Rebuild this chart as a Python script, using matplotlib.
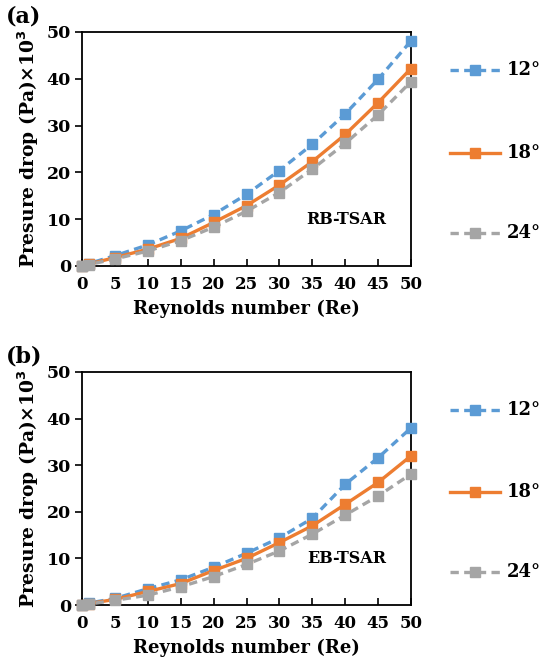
import matplotlib
matplotlib.use("Agg")
import matplotlib.pyplot as plt
from matplotlib.lines import Line2D

re_vals = [0, 1, 5, 10, 15, 20, 25, 30, 35, 40, 45, 50]
x_ticks = [0, 5, 10, 15, 20, 25, 30, 35, 40, 45, 50]
y_ticks = [0, 10, 20, 30, 40, 50]
angles = ["12°", "18°", "24°"]

rb_12 = [0, 0.5, 2.2, 4.5, 7.5, 11.0, 15.3, 20.4, 26.0, 32.5, 39.9, 48.1]
rb_18 = [0, 0.4, 1.8, 3.6, 5.9, 9.3, 12.9, 17.3, 22.3, 28.1, 34.9, 42.2]
rb_24 = [0, 0.3, 1.5, 3.2, 5.4, 8.3, 11.7, 15.7, 20.7, 26.2, 32.3, 39.4]

eb_12 = [0, 0.4, 1.4, 3.5, 5.4, 8.1, 11.1, 14.4, 18.6, 25.9, 31.6, 38.0]
eb_18 = [0, 0.3, 1.2, 2.9, 4.6, 7.4, 10.0, 13.4, 17.0, 21.6, 26.3, 32.0]
eb_24 = [0, 0.2, 1.0, 2.1, 3.9, 6.1, 8.7, 11.6, 15.2, 19.3, 23.4, 28.1]

colors = ["#5B9BD5", "#ED7D31", "#A5A5A5"]
styles = [(0, (2.5, 1.6)), "-", (0, (2.5, 1.6))]

plt.rcParams["font.family"] = ["DejaVu Serif"]
plt.rcParams["font.weight"] = "bold"

fig = plt.figure(figsize=(5.42, 6.67), dpi=100)
W, H = 542, 667

def add_panel(top_px, bottom_px, series, tag, panel_label, leg_ys):
    ax = fig.add_axes([82 / W, 1 - bottom_px / H, (411 - 82) / W, (bottom_px - top_px) / H])
    for vals, c, ls in zip(series, colors, styles):
        ax.plot(re_vals, vals, color=c, linestyle=ls, lw=2.4, marker="s",
                markersize=7.8, markeredgecolor=c, clip_on=False, zorder=3)
    ax.set_xlim(0, 50)
    ax.set_ylim(0, 50)
    ax.set_xticks(x_ticks)
    ax.set_yticks(y_ticks)
    ax.tick_params(axis="x", direction="in", length=5, width=1.2, labelsize=12, pad=7)
    ax.tick_params(axis="y", direction="out", length=5, width=1.2, labelsize=12.5, pad=3)
    for lab in ax.get_xticklabels() + ax.get_yticklabels():
        lab.set_fontweight("bold")
    for sp in ax.spines.values():
        sp.set_linewidth(1.3)
    ax.set_xlabel("Reynolds number (Re)", fontsize=13, fontweight="bold", labelpad=5)
    ax.set_ylabel("Presure drop (Pa)×10$^\\mathbf{3}$", fontsize=13.5, fontweight="bold", labelpad=4)
    ax.text(0.925, 0.2, tag, transform=ax.transAxes, ha="right", va="center",
            fontsize=11.5, fontweight="bold")
    fig.text(6 / W, 1 - (top_px - 15) / H, panel_label, fontsize=16, fontweight="bold",
             ha="left", va="center")
    for name, c, ls, ly in zip(angles, colors, styles, leg_ys):
        yf = 1 - ly / H
        fig.add_artist(Line2D([450 / W, 500 / W], [yf, yf], color=c, linestyle=ls, lw=2.4,
                              transform=fig.transFigure))
        fig.add_artist(Line2D([475 / W], [yf], color=c, marker="s", markersize=7.8,
                              linestyle="none", transform=fig.transFigure))
        fig.text(507 / W, yf, name, fontsize=13, fontweight="bold", ha="left", va="center")
    return ax

add_panel(32, 266, [rb_12, rb_18, rb_24], "RB-TSAR", "(a)", [70, 153, 233])
add_panel(372, 605, [eb_12, eb_18, eb_24], "EB-TSAR", "(b)", [410, 492, 572])

fig.savefig("out.png", dpi=100)
